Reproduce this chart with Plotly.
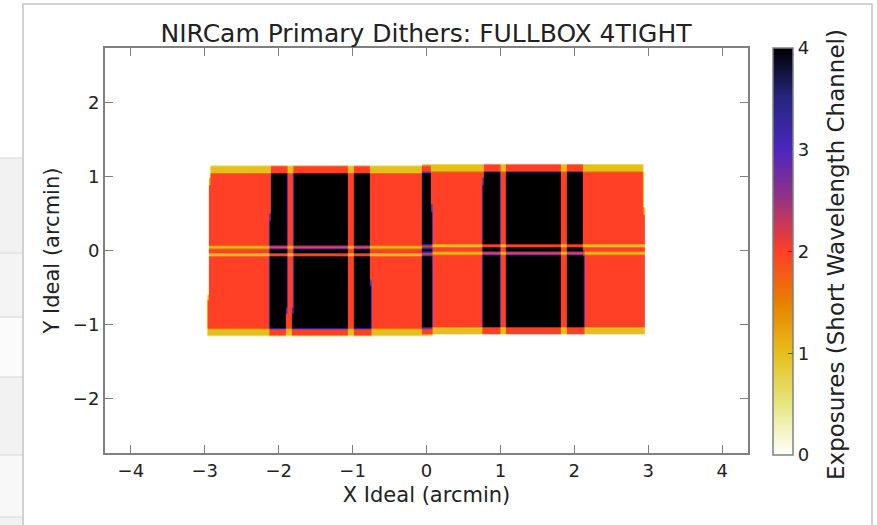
import numpy as np
import plotly.graph_objects as go

# ---------------------------------------------------------------------------
# NIRCam short-wavelength footprint and FULLBOX 4TIGHT dither offsets (arcmin)
# ---------------------------------------------------------------------------
dither_dx = [-0.413, -0.413, 0.413, 0.413]
dither_dy = [0.047, -0.047, 0.047, -0.047]

# Module outlines in ideal coordinates, before dithering (left module, right module)
module_x_left_top = [-2.525, 0.348]
module_x_right_top = [-0.356, 2.521]
module_x_left_bot = [-2.553, 0.335]
module_x_right_bot = [-0.343, 2.544]
module_y_top = [1.094, 1.114]
module_y_bot = [-1.104, -1.084]
# gaps between the 2x2 detectors of each module
module_row_gap_lo = [-0.026, -0.006]
module_row_gap_hi = [0.026, 0.046]
module_col_gap = [0.080, 0.077]

x_ticks = [-4, -3, -2, -1, 0, 1, 2, 3, 4]
y_ticks = [-2, -1, 0, 1, 2]
cbar_ticks = [0, 1, 2, 3, 4]

# CMRmap, reversed: exposures 0 (white) -> 4 (black)
cmap_pos = [0.0, 0.125, 0.25, 0.375, 0.5, 0.625, 0.75, 0.875, 1.0]
cmap_rgb = [(1.00, 1.00, 1.00), (0.90, 0.90, 0.50), (0.90, 0.75, 0.10),
            (0.90, 0.50, 0.00), (1.00, 0.25, 0.15), (0.60, 0.20, 0.50),
            (0.30, 0.15, 0.75), (0.15, 0.15, 0.50), (0.00, 0.00, 0.00)]
colorscale = [[p, "rgb({:.0f},{:.0f},{:.0f})".format(r * 255, g * 255, b * 255)]
              for p, (r, g, b) in zip(cmap_pos, cmap_rgb)]

# ---------------------------------------------------------------------------
# Exposure map: count how many dithered detector footprints cover each pixel
# ---------------------------------------------------------------------------
step = 0.02
gx = np.arange(-3.3, 3.3 + 1e-9, step)
gy = np.arange(-1.4, 1.4 + 1e-9, step)
X, Y = np.meshgrid(gx, gy)
exposures = np.zeros(X.shape, dtype=np.int8)

for dx, dy in zip(dither_dx, dither_dy):
    for m in range(len(module_y_top)):
        yt, yb = module_y_top[m], module_y_bot[m]
        # x edges vary linearly with y (slight field distortion)
        f = (yt - (Y - dy)) / (yt - yb)
        xl = module_x_left_top[m] + f * (module_x_left_bot[m] - module_x_left_top[m]) + dx
        xr = module_x_right_top[m] + f * (module_x_right_bot[m] - module_x_right_top[m]) + dx
        xc = 0.5 * (xl + xr)
        half = 0.5 * module_col_gap[m]
        rows = [(module_row_gap_hi[m] + dy, yt + dy), (yb + dy, module_row_gap_lo[m] + dy)]
        cols = [(xl, xc - half), (xc + half, xr)]
        for y0, y1 in rows:
            in_row = (Y >= y0) & (Y < y1)
            for x0, x1 in cols:
                exposures += (in_row & (X >= x0) & (X < x1)).astype(np.int8)

# ---------------------------------------------------------------------------
# Figure
# ---------------------------------------------------------------------------
W, H = 877, 525
ML, MR, MT, MB = 105, 129, 48, 72
PW, PH = W - ML - MR, H - MT - MB
FONT = "DejaVu Sans"
TXT = "#222222"
AX = "#808080"


def px(xp):
    return (xp - ML) / PW


def py(yp):
    return (H - MB - yp) / PH


fig = go.Figure()
fig.add_trace(go.Heatmap(
    x=gx, y=gy, z=exposures,
    zmin=0, zmax=4, zsmooth="best",
    colorscale=colorscale,
    hoverinfo="skip",
    colorbar=dict(
        x=px(773), xanchor="left", xref="paper", xpad=0,
        y=py(251.5), yanchor="middle", ypad=0,
        len=407 / PH, lenmode="fraction",
        thickness=20, outlinecolor=AX, outlinewidth=1.5,
        tickvals=cbar_ticks, ticks="inside", ticklen=5, tickcolor="#444",
        tickfont=dict(family=FONT, size=18, color=TXT),
    ),
))

# colour bar label
fig.add_annotation(
    text="Exposures (Short Wavelength Channel)", textangle=-90,
    xref="paper", yref="paper", x=px(836), y=py(255),
    xanchor="center", yanchor="middle", showarrow=False,
    font=dict(family=FONT, size=23, color=TXT),
)

# surrounding page panel: table rows on the left and a thin border
shapes = []
row_edges = [158, 253, 317, 377, 455, 517, 525]
row_fills = ["#f2f2f2", "#f4f4f4", "#fbfbfb", "#f2f2f2", "#f8f8f8", "#f2f2f2"]
for (a, b), c in zip(zip(row_edges[:-1], row_edges[1:]), row_fills):
    shapes.append(dict(type="rect", xref="paper", yref="paper",
                       x0=px(0), x1=px(23), y0=py(b), y1=py(a),
                       fillcolor=c, line=dict(width=0), layer="below"))
for e in row_edges[:-1]:
    shapes.append(dict(type="line", xref="paper", yref="paper",
                       x0=px(0), x1=px(23), y0=py(e), y1=py(e),
                       line=dict(color="#dcdcdc", width=1.2), layer="below"))
shapes.append(dict(type="path", xref="paper", yref="paper",
                   path="M {a},{b} L {a},{c} L {d},{c} L {d},{b}".format(
                       a=px(23), b=py(525), c=py(4), d=px(872)),
                   line=dict(color="#c4c4c4", width=1.5), layer="below"))

axis_common = dict(
    showgrid=False, zeroline=False, showline=True, linecolor=AX, linewidth=2,
    mirror="allticks", ticks="inside", ticklen=8, tickwidth=1.3, tickcolor=AX,
    tickfont=dict(family=FONT, size=18, color=TXT),
)

fig.update_layout(
    width=W, height=H,
    margin=dict(l=ML, r=MR, t=MT, b=MB, pad=0),
    paper_bgcolor="white", plot_bgcolor="white",
    font=dict(family=FONT, color=TXT),
    title=dict(text="NIRCam Primary Dithers: FULLBOX 4TIGHT",
               font=dict(family=FONT, size=25, color=TXT),
               x=px(426), xanchor="center", xref="paper",
               y=1 - 33 / H, yanchor="middle", yref="container"),
    xaxis=dict(range=[-4.35, 4.35], tickvals=x_ticks,
               title=dict(text="X Ideal (arcmin)", standoff=8,
                          font=dict(family=FONT, size=21, color=TXT)),
               **axis_common),
    yaxis=dict(range=[-2.74, 2.74], tickvals=y_ticks,
               title=dict(text="Y Ideal (arcmin)", standoff=8,
                          font=dict(family=FONT, size=21, color=TXT)),
               **axis_common),
    shapes=shapes,
    showlegend=False,
)

fig.write_html("out.html")
